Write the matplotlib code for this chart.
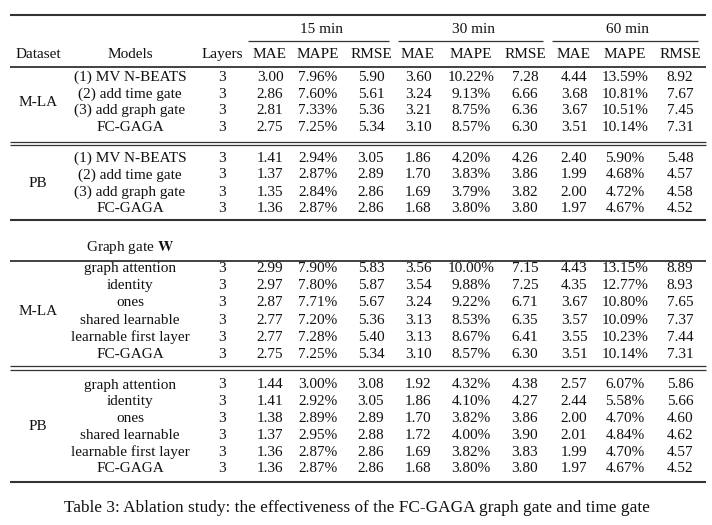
import matplotlib
matplotlib.use("Agg")
import matplotlib.pyplot as plt

plt.rcParams['font.family'] = ['Liberation Serif', 'DejaVu Serif']
plt.rcParams['mathtext.fontset'] = 'stix'

# ---- data ----
horizons = ["15 min", "30 min", "60 min"]
metrics = ["MAE", "MAPE", "RMSE"]

models_top = ["(1) MV N-BEATS", "(2) add time gate", "(3) add graph gate", "FC-GAGA"]
models_bottom = ["graph attention", "identity", "ones", "shared learnable",
                 "learnable first layer", "FC-GAGA"]

mla_top = [
    ["3.00", "7.96%", "5.90", "3.60", "10.22%", "7.28", "4.44", "13.59%", "8.92"],
    ["2.86", "7.60%", "5.61", "3.24", "9.13%", "6.66", "3.68", "10.81%", "7.67"],
    ["2.81", "7.33%", "5.36", "3.21", "8.75%", "6.36", "3.67", "10.51%", "7.45"],
    ["2.75", "7.25%", "5.34", "3.10", "8.57%", "6.30", "3.51", "10.14%", "7.31"],
]
pb_top = [
    ["1.41", "2.94%", "3.05", "1.86", "4.20%", "4.26", "2.40", "5.90%", "5.48"],
    ["1.37", "2.87%", "2.89", "1.70", "3.83%", "3.86", "1.99", "4.68%", "4.57"],
    ["1.35", "2.84%", "2.86", "1.69", "3.79%", "3.82", "2.00", "4.72%", "4.58"],
    ["1.36", "2.87%", "2.86", "1.68", "3.80%", "3.80", "1.97", "4.67%", "4.52"],
]
mla_bottom = [
    ["2.99", "7.90%", "5.83", "3.56", "10.00%", "7.15", "4.43", "13.15%", "8.89"],
    ["2.97", "7.80%", "5.87", "3.54", "9.88%", "7.25", "4.35", "12.77%", "8.93"],
    ["2.87", "7.71%", "5.67", "3.24", "9.22%", "6.71", "3.67", "10.80%", "7.65"],
    ["2.77", "7.20%", "5.36", "3.13", "8.53%", "6.35", "3.57", "10.09%", "7.37"],
    ["2.77", "7.28%", "5.40", "3.13", "8.67%", "6.41", "3.55", "10.23%", "7.44"],
    ["2.75", "7.25%", "5.34", "3.10", "8.57%", "6.30", "3.51", "10.14%", "7.31"],
]
pb_bottom = [
    ["1.44", "3.00%", "3.08", "1.92", "4.32%", "4.38", "2.57", "6.07%", "5.86"],
    ["1.41", "2.92%", "3.05", "1.86", "4.10%", "4.27", "2.44", "5.58%", "5.66"],
    ["1.38", "2.89%", "2.89", "1.70", "3.82%", "3.86", "2.00", "4.70%", "4.60"],
    ["1.37", "2.95%", "2.88", "1.72", "4.00%", "3.90", "2.01", "4.84%", "4.62"],
    ["1.36", "2.87%", "2.86", "1.69", "3.82%", "3.83", "1.99", "4.70%", "4.57"],
    ["1.36", "2.87%", "2.86", "1.68", "3.80%", "3.80", "1.97", "4.67%", "4.52"],
]
layers = "3"
caption = "Table 3: Ablation study: the effectiveness of the FC-GAGA graph gate and time gate"

# ---- layout (pixel space) ----
fig = plt.figure(figsize=(7.12, 5.25), dpi=100)
ax = fig.add_axes([0, 0, 1, 1])
ax.set_xlim(0, 712)
ax.set_ylim(525, 0)
ax.axis("off")

FS = 11
x_dataset, x_model, x_layers = 38, 130, 222
x_metric = [270, 318, 371, 418, 471, 525, 574, 625, 680]
x_group = [322, 474, 628]
cmid = [(248, 389), (398, 543), (552, 698)]
xl, xr = 10, 706
base = 5  # half cap height: center -> baseline


def txt(x, y, s, **kw):
    ax.text(x, y + base, s, ha="center", va="baseline", fontsize=FS,
            color="#111111", **kw)


def hline(y, lw=0.8, x0=xl, x1=xr):
    ax.plot([x0, x1], [y, y], color="#333333", lw=lw, solid_capstyle="butt")


def section(y0, step, name, models, rows):
    ys = [y0 + i * step for i in range(len(models))]
    txt(x_dataset, (ys[0] + ys[-1]) / 2, name)
    for y, m, vals in zip(ys, models, rows):
        txt(x_model, y, m)
        txt(x_layers, y, layers)
        for x, v in zip(x_metric, vals):
            txt(x, y, v)


# header
hline(15, 1.5)
for x, h in zip(x_group, horizons):
    txt(x, 28, h)
for x0, x1 in cmid:
    hline(41, 0.9, x0, x1)
txt(x_dataset, 53, "Dataset")
txt(x_model, 53, "Models")
txt(x_layers, 53, "Layers")
for i, x in enumerate(x_metric):
    txt(x, 53, metrics[i % 3])
hline(66.5, 1.3)

section(75.8, 16.75, "M-LA", models_top, mla_top)
hline(141.5, 0.9)
hline(145, 0.9)
section(156.5, 17.0, "PB", models_top, pb_top)
hline(220, 1.5)

txt(x_model, 246.5, r"Graph gate $\mathbf{W}$")
hline(260.5, 1.3)
section(267, 17.25, "M-LA", models_bottom, mla_bottom)
hline(366, 0.9)
hline(370, 0.9)
section(383.5, 16.8, "PB", models_bottom, pb_bottom)
hline(481.5, 1.5)

ax.text(357, 506.5 + 5.5, caption, ha="center", va="baseline", fontsize=12.4,
        color="#111111")

fig.savefig("out.png", dpi=100)
